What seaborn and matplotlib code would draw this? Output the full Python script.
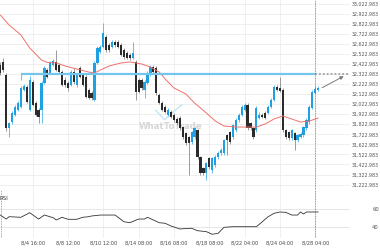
import matplotlib
matplotlib.use("Agg")
import matplotlib.pyplot as plt
import numpy as np
import pandas as pd
import seaborn as sns

# ---------------- data ----------------
opens = [32412, 32442, 32312, 31785, 31845, 31915, 31964, 31994, 32163, 32193,
         31964, 32243, 32034, 31964, 31964, 32233, 32362, 32332, 32412, 32442,
         32412, 32342, 32263, 32233, 32213, 32342, 32213, 32382, 32312, 32293,
         32163, 32133, 32064, 32432, 32541, 32591, 32690, 32610, 32591, 32640,
         32640, 32610, 32561, 32531, 32511, 32481, 32442, 32263, 32263, 32163,
         32233, 32312, 32392, 32382, 32113, 32034, 31994, 31915, 31945, 31915,
         31875, 31885, 31795, 31736, 31696, 31646, 31696, 31766, 31497, 31388,
         31338, 31487, 31368, 31418, 31497, 31537, 31537, 31716, 31746, 31696,
         31766, 31865, 31915, 31964, 32014, 31835, 31785, 31766, 31885, 31915,
         31935, 31935, 31994, 32064, 32193, 32183, 32163, 31766, 31746, 31686,
         31736, 31666, 31700, 31716, 31785, 31845, 31984, 32133, 32163]
closes = [32332, 32362, 31785, 31835, 31935, 31994, 32034, 32183, 32203, 32044,
          32263, 32014, 31915, 31895, 32233, 32382, 32293, 32432, 32452, 32362,
          32342, 32213, 32213, 32183, 32342, 32243, 32312, 32293, 32213, 32094,
          32084, 32084, 32432, 32581, 32591, 32730, 32561, 32561, 32640, 32610,
          32591, 32511, 32491, 32481, 32481, 32531, 32143, 32143, 32183, 32243,
          32332, 32392, 32342, 32133, 32034, 31964, 31945, 31964, 31895, 31865,
          31835, 31785, 31696, 31636, 31636, 31746, 31785, 31497, 31338, 31338,
          31438, 31398, 31487, 31497, 31537, 31567, 31666, 31666, 31646, 31815,
          31865, 31915, 31994, 32014, 31785, 31785, 31696, 31984, 31915, 31895,
          31885, 31994, 32064, 32193, 32163, 32153, 31766, 31696, 31686, 31766,
          31666, 31716, 31730, 31795, 31865, 31994, 32143, 32173, 32183]
highs = [32440, 32480, 32330, 31850, 31950, 32010, 32050, 32200, 32220, 32210,
         32303, 32260, 32050, 31980, 32250, 32400, 32380, 32450, 32470, 32561,
         32430, 32360, 32290, 32250, 32360, 32380, 32330, 32400, 32330, 32310,
         32180, 32150, 32450, 32600, 32610, 32829, 32710, 32630, 32660, 32660,
         32660, 32630, 32580, 32550, 32530, 32640, 32460, 32280, 32280, 32260,
         32350, 32410, 32410, 32400, 32130, 32050, 32010, 31980, 31960, 31930,
         31890, 31900, 31810, 31750, 31710, 31760, 31800, 31780, 31510, 31400,
         31450, 31500, 31500, 31520, 31560, 31590, 31680, 31730, 31760, 31830,
         31880, 31930, 32010, 32030, 32030, 31850, 31800, 32000, 31940, 31930,
         31950, 32010, 32080, 32210, 32210, 32293, 32180, 31780, 31760, 31780,
         31750, 31730, 31745, 31810, 31880, 32010, 32160, 32200, 32200]
lows = [32310, 32340, 31760, 31696, 31830, 31900, 31950, 31980, 32150, 32030,
        31950, 32000, 31900, 31835, 31835, 32220, 32280, 32320, 32400, 32350,
        32330, 32200, 32190, 32150, 32200, 32220, 32190, 32280, 32200, 32080,
        32070, 32064, 32050, 32420, 32530, 32580, 32540, 32540, 32580, 32590,
        32580, 32500, 32470, 32470, 32460, 32470, 32064, 32130, 32160, 32084,
        32220, 32300, 32330, 32110, 32020, 31950, 31930, 31900, 31880, 31850,
        31820, 31770, 31680, 31620, 31318, 31630, 31680, 31480, 31320, 31320,
        31269, 31380, 31340, 31400, 31480, 31520, 31520, 31517, 31630, 31680,
        31750, 31850, 31900, 31950, 31770, 31770, 31680, 31750, 31870, 31880,
        31870, 31920, 31980, 32050, 32150, 32140, 31750, 31680, 31670, 31670,
        31567, 31650, 31685, 31700, 31770, 31830, 31970, 32120, 32150]

ma_idx = [0, 3, 7, 10, 14, 16, 19, 22, 26, 30, 32, 34, 37, 41, 44, 48, 51, 54,
          56, 59, 63, 66, 70, 73, 76, 80, 83, 87, 90, 93, 96, 99, 102, 105, 108]
ma_vals = [32909, 32809, 32710, 32581, 32461, 32437, 32432, 32402, 32372, 32342,
           32332, 32362, 32402, 32432, 32442, 32422, 32392, 32342, 32273, 32183,
           32124, 32034, 31935, 31855, 31805, 31795, 31795, 31795, 31825, 31875,
           31905, 31875, 31845, 31855, 31885]

rsi_idx = [0, 2, 3, 7, 10, 13, 15, 18, 19, 21, 23, 26, 28, 30, 31, 34, 39, 42,
           44, 47, 49, 50, 52, 54, 56, 58, 61, 65, 67, 70, 72, 74, 76, 79, 87,
           89, 91, 93, 95, 97, 99, 101, 102, 103, 104, 108]
rsi_vals = [53.4, 48.8, 51.5, 50.8, 56.1, 48.8, 53.4, 50.3, 47.7, 50.8, 48.5,
            48.5, 50.8, 51.5, 52.3, 53.4, 53.4, 45.7, 44.6, 48.8, 48.8, 50.8,
            47.7, 44.6, 43.9, 40.8, 37.4, 38.2, 35.4, 34.3, 31.3, 32.4, 39.3,
            40.0, 40.0, 45.7, 51.5, 55.4, 56.9, 56.5, 53.4, 53.4, 56.9, 54.6,
            56.9, 56.9]

level = 32322.983
level_start = 7
now_idx = 107
price_ticks = [31222.983 + 100 * k for k in range(19)]
tick_idx = [11, 23, 35, 47, 59, 71, 83, 95, 107]
tick_labels = ["8/4 16:00", "8/8 12:00", "8/10 12:00", "8/14 08:00", "8/16 08:00",
               "8/18 08:00", "8/22 04:00", "8/24 04:00", "8/28 04:00"]
rsi_ticks = [40, 60]

# ---------------- style ----------------
sns.set_theme(style="white")
plt.rcParams["font.family"] = ["DejaVu Sans"]

BLUE = "#1fa0e2"
DARK = "#2b2b2b"
GRID = "#ededed"

df = pd.DataFrame({"o": opens, "c": closes, "h": highs, "l": lows})
df["i"] = np.arange(len(df))
df["up"] = df["c"] >= df["o"]

fig = plt.figure(figsize=(3.8, 2.5), dpi=100)
ax = fig.add_axes([0, 0.24, 350 / 380, 0.76])
ax2 = fig.add_axes([0, 0.048, 350 / 380, 0.192])

XL = (-0.1, 118.8)
for a in (ax, ax2):
    a.set_xlim(*XL)
    a.set_facecolor("white")
    for s in a.spines.values():
        s.set_visible(False)
    for t in tick_idx:
        a.axvline(t, color=GRID, lw=0.6, zorder=0)

ax.set_ylim(31169.2, 33057.8)
ax2.set_ylim(27.0, 82.2)

for p in price_ticks:
    ax.axhline(p, color=GRID, lw=0.6, zorder=0)
for r in rsi_ticks:
    ax2.axhline(r, color="#e2e2e2", lw=0.6, zorder=0)

# watermark
ax.text(0.487, 0.335, "WhatToTrade", transform=ax.transAxes, ha="center",
        va="center", fontsize=6.2, fontweight="bold", color="#d6d6d6", zorder=1)
ax.plot([0.445, 0.47, 0.52], [0.42, 0.37, 0.45], transform=ax.transAxes,
        color="#bfe3f5", lw=0.9, zorder=1)

# candles
wick_cols = [("#4fb4ea" if u else "#8a8a8a") for u in df["up"]]
ax.vlines(df["i"], df["l"], df["h"], colors=wick_cols, lw=0.6, zorder=3)
body_h = np.maximum(np.abs(df["c"] - df["o"]), 6)
body_b = np.minimum(df["o"], df["c"])
ax.bar(df["i"], body_h, bottom=body_b, width=0.75,
       color=[BLUE if u else DARK for u in df["up"]], linewidth=0, zorder=4)

# moving average
sns.lineplot(x=ma_idx, y=ma_vals, ax=ax, color="#f0706a", lw=0.7, zorder=5)

# level line
ax.hlines(level, level_start, now_idx, color="#74c6ee", lw=1.6, zorder=6)
ax.vlines(level_start, level - 60, level, color="#74c6ee", lw=0.8, zorder=6)
ax.hlines(level, now_idx, XL[1], color="#aaaaaa", lw=1.4, linestyles=(0, (1, 1)),
          zorder=6)

# arrow
n = len(closes)
ax.annotate("", xy=(n - 1 + 9.5, level - 10), xytext=(n - 1 + 0.5, closes[-1] - 10),
            arrowprops=dict(arrowstyle="-|>", color="#7a7a7a", lw=0.7,
                            mutation_scale=5), zorder=7)

# now line
for a in (ax, ax2):
    a.axvline(now_idx, color="#777777", lw=0.6, ls=(0, (1, 1)), zorder=6)
ax2.axvline(XL[0] + 0.2, color="#888888", lw=0.6, ls=(0, (1, 1)), zorder=6)

# RSI
sns.lineplot(x=rsi_idx, y=rsi_vals, ax=ax2, color="#333333", lw=0.6, zorder=5)
ax2.text(0.0, 0.82, "RSI", transform=ax2.transAxes, fontsize=4, color="#333333",
         ha="left", va="center")

# ticks
ax.yaxis.tick_right()
ax.set_yticks(price_ticks)
ax.set_yticklabels([f"{p:,.3f}" for p in price_ticks])
ax.tick_params(axis="y", length=0, pad=1.0, labelsize=3.45, labelcolor="#555555")
ax.set_xticks([])

ax2.yaxis.tick_right()
ax2.set_yticks(rsi_ticks)
ax2.set_yticklabels([str(r) for r in rsi_ticks])
ax2.tick_params(axis="y", length=0, pad=16, labelsize=3.8, labelcolor="#555555")
ax2.set_xticks(tick_idx)
ax2.set_xticklabels(tick_labels)
ax2.tick_params(axis="x", length=0, pad=1.5, labelsize=3.6, labelcolor="#444444")

for a in (ax, ax2):
    a.set_xlabel("")
    a.set_ylabel("")
    a.grid(False)

fig.savefig("out.png", dpi=100)
